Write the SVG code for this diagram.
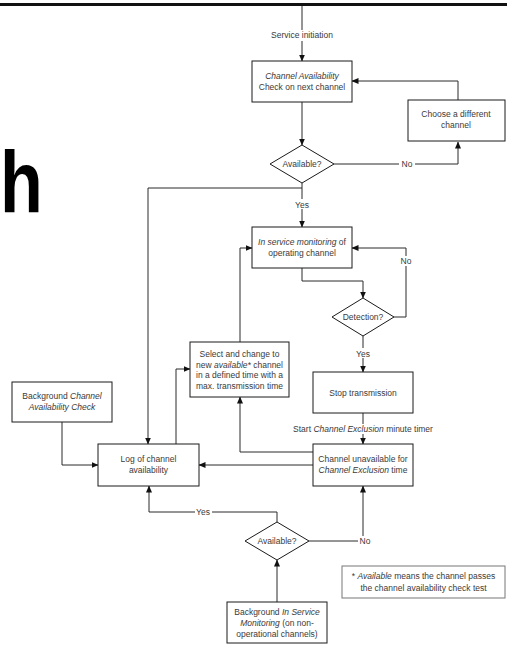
<svg xmlns="http://www.w3.org/2000/svg" width="507" height="645" viewBox="0 0 507 645">
  <defs>
    <marker id="arr" markerWidth="7" markerHeight="6" refX="6.5" refY="3" orient="auto" markerUnits="userSpaceOnUse">
      <path d="M0,0 L7,3 L0,6 z" fill="#111"/>
    </marker>
    <style>
      .box{fill:#fff;stroke:#1a1a1a;stroke-width:1}
      .note{fill:#fff;stroke:#777;stroke-width:1}
      .wire{fill:none;stroke:#2a2a2a;stroke-width:1}
      .bg{fill:#fff}
      text{font-family:"Liberation Sans",Arial,sans-serif;font-size:8.5px;fill:#3a3a3a;text-anchor:middle}
      .i{font-style:italic}
    </style>
  </defs>

  <rect width="507" height="645" fill="#fff"/>
  <line x1="0" y1="4.5" x2="507" y2="4.5" stroke="#111" stroke-width="3"/>
  <text transform="translate(0,212) scale(1,1.25)" x="0" y="0" style="font-size:70px;font-weight:bold;fill:#000;text-anchor:start">h</text>

  <!-- connectors -->
  <g id="connectors">
    <path class="wire" d="M302,6 V61" marker-end="url(#arr)"/>
    <path class="wire" d="M302,102 V145" marker-end="url(#arr)"/>
    <path class="wire" d="M334,164 H458 V142" marker-end="url(#arr)"/>
    <path class="wire" d="M458,100 V81 H352" marker-end="url(#arr)"/>
    <path class="wire" d="M302,183 V227" marker-end="url(#arr)"/>
    <path class="wire" d="M302,188 H148 V444" marker-end="url(#arr)"/>
    <path class="wire" d="M302,268 V281 H363 V298" marker-end="url(#arr)"/>
    <path class="wire" d="M394,317 H406 V248 H352" marker-end="url(#arr)"/>
    <path class="wire" d="M363,336 V372" marker-end="url(#arr)"/>
    <path class="wire" d="M363,413 V444" marker-end="url(#arr)"/>
    <path class="wire" d="M313,452 H240 V397" marker-end="url(#arr)"/>
    <path class="wire" d="M240,342 V248 H252" marker-end="url(#arr)"/>
    <path class="wire" d="M313,465 H199" marker-end="url(#arr)"/>
    <path class="wire" d="M176,444 V369 H190" marker-end="url(#arr)"/>
    <path class="wire" d="M62,422 V465 H98" marker-end="url(#arr)"/>
    <path class="wire" d="M277,522 V512 H149 V486" marker-end="url(#arr)"/>
    <path class="wire" d="M309,541 H363 V486" marker-end="url(#arr)"/>
    <path class="wire" d="M277,602 V560" marker-end="url(#arr)"/>

    <!-- connector labels -->
    <rect class="bg" x="268" y="30" width="68" height="11"/>
    <text x="302" y="38">Service initiation</text>
    <rect class="bg" x="399" y="159" width="16" height="10"/>
    <text x="407" y="167">No</text>
    <rect class="bg" x="294" y="199" width="16" height="10"/>
    <text x="302" y="208">Yes</text>
    <rect class="bg" x="399" y="256" width="14" height="10"/>
    <text x="406" y="264">No</text>
    <rect class="bg" x="355" y="348" width="16" height="10"/>
    <text x="363" y="357">Yes</text>
    <rect class="bg" x="290" y="424" width="146" height="10"/>
    <text x="363" y="432">Start <tspan class="i">Channel Exclusion</tspan> minute timer</text>
    <rect class="bg" x="195" y="507" width="17" height="10"/>
    <text x="203" y="515">Yes</text>
    <rect class="bg" x="358" y="536" width="13" height="10"/>
    <text x="365" y="544">No</text>
  </g>

  <g id="channel-check">
    <rect class="box" x="252" y="61" width="100" height="41"/>
    <text x="302" y="79" class="i">Channel Availability</text>
    <text x="302" y="90">Check on next channel</text>
  </g>

  <g id="choose-channel">
    <rect class="box" x="408" y="100" width="97" height="41"/>
    <text x="456" y="117">Choose a different</text>
    <text x="456" y="128">channel</text>
  </g>

  <g id="available-1">
    <polygon class="box" points="302,145 334,164 302,183 270,164"/>
    <text x="302" y="167">Available?</text>
  </g>

  <g id="in-service">
    <rect class="box" x="252" y="227" width="100" height="41"/>
    <text x="302" y="245"><tspan class="i">In service monitoring</tspan> of</text>
    <text x="302" y="256">operating channel</text>
  </g>

  <g id="detection">
    <polygon class="box" points="363,298 394,317 363,336 332,317"/>
    <text x="363" y="320">Detection?</text>
  </g>

  <g id="stop">
    <rect class="box" x="313" y="372" width="100" height="41"/>
    <text x="363" y="396">Stop transmission</text>
  </g>

  <g id="channel-unavailable">
    <rect class="box" x="313" y="444" width="100" height="42"/>
    <text x="363" y="462">Channel unavailable for</text>
    <text x="363" y="473"><tspan class="i">Channel Exclusion</tspan> time</text>
  </g>

  <g id="select-change">
    <rect class="box" x="190" y="342" width="99" height="55"/>
    <text x="239.5" y="357">Select and change to</text>
    <text x="239.5" y="367.5">new <tspan class="i">available*</tspan> channel</text>
    <text x="239.5" y="378">in a defined time with a</text>
    <text x="239.5" y="388.5">max. transmission time</text>
  </g>

  <g id="background-cac">
    <rect class="box" x="12" y="382" width="100" height="40"/>
    <text x="62" y="399">Background <tspan class="i">Channel</tspan></text>
    <text x="62" y="410" class="i">Availability Check</text>
  </g>

  <g id="log">
    <rect class="box" x="98" y="444" width="101" height="42"/>
    <text x="148.5" y="462">Log of channel</text>
    <text x="148.5" y="473">availability</text>
  </g>

  <g id="available-2">
    <polygon class="box" points="277,522 309,541 277,560 245,541"/>
    <text x="277" y="544">Available?</text>
  </g>

  <g id="background-ism">
    <rect class="box" x="227" y="602" width="100" height="41"/>
    <text x="277" y="615">Background <tspan class="i">In Service</tspan></text>
    <text x="277" y="626"><tspan class="i">Monitoring</tspan> (on non-</text>
    <text x="277" y="637">operational channels)</text>
  </g>

  <g id="footnote">
    <rect class="note" x="342" y="566" width="163" height="32"/>
    <text x="423.5" y="579">* <tspan class="i">Available</tspan> means the channel passes</text>
    <text x="423.5" y="591">the channel availability check test</text>
  </g>
</svg>
